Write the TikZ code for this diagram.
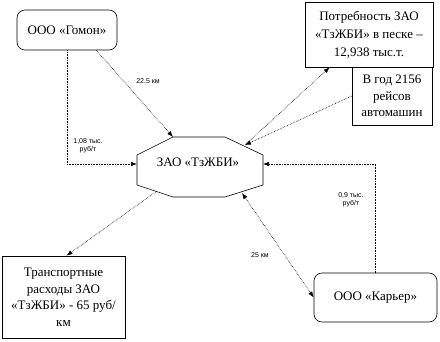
\documentclass[tikz,border=0pt]{standalone}
\usepackage{fontspec}
\setmainfont{Liberation Serif}
\newfontfamily\labfont{Liberation Sans}
\usetikzlibrary{arrows.meta}
\tikzset{
  box/.style={draw, line width=0.6pt, fill=white, align=center, inner sep=0pt,
    font=\fontsize{13}{16.5}\selectfont},
  rbox/.style={box, rounded corners=8pt},
  conn/.style={densely dotted, line width=0.6pt, -{Latex[length=6pt,width=4.5pt]}},
  lab/.style={font=\labfont\fontsize{7}{8.5}\selectfont, align=center, inner sep=0pt},
  octa/.style={line width=0.6pt, fill=white}
}
\begin{document}
\begin{tikzpicture}[x=1pt,y=-1pt]
\useasboundingbox (0,0) rectangle (440,341);
% octagon
\coordinate (o1) at (173,137);
\coordinate (o2) at (225,137);
\coordinate (o3) at (263,155);
\coordinate (o4) at (263,185);
\coordinate (o5) at (225,197);
\coordinate (o6) at (173,197);
\coordinate (o7) at (137,185);
\coordinate (o8) at (137,155);
\draw[octa] (o1) -- (o2) -- (o3) -- (o4) -- (o5) -- (o6) -- (o7) -- (o8) -- cycle;
\node[font=\fontsize{13}{16}\selectfont, inner sep=0pt] (c) at (198,162) {ЗАО «ТзЖБИ»};
\coordinate (oL) at (137,164);
\coordinate (oR) at (263,164);
\coordinate (oUR) at (245,145);
\coordinate (oLL) at (157,191);
\coordinate (oLR) at (242,193);

% boxes
\node[rbox, minimum width=100pt, minimum height=40pt] (g) at (67,30) {ООО «Гомон»};
\node[box, minimum width=128pt, minimum height=65pt, font=\fontsize{13}{18}\selectfont] (p) at (369,34.5) {Потребность ЗАО\\«ТзЖБИ» в песке –\\12,938 тыс.т.};
\node[box, minimum width=80pt, minimum height=58pt] (v) at (392,96) {В год 2156\\рейсов\\автомашин};
\node[box, minimum width=123pt, minimum height=82pt] (t) at (63.5,297) {Транспортные\\расходы ЗАО\\«ТзЖБИ» - 65 руб/\\км};
\node[rbox, minimum width=123pt, minimum height=49pt] (k) at (375.5,297.5) {ООО «Карьер»};

% connectors
\draw[conn] (g.south) |- (oL);
\draw[conn] ([xshift=-21pt]g.south east) -- (o1);
\draw[conn] (oUR) -- ([xshift=25pt]p.south west);
\draw[conn] (v.west) -- (oUR);
\draw[conn] (k.north) |- (oR);
\draw[conn] (oLL) -- ([xshift=3pt]t.north);
\draw[conn, {Latex[length=6pt,width=4.5pt]}-{Latex[length=6pt,width=4.5pt]}] (oLR) -- (k.west);

% labels
\node[lab] (l1) at (148,81) {22.5 км};
\node[lab] (l2) at (88,146) {1,08 тыс.\\руб/т};
\node[lab] (l3) at (351,200) {0,9 тыс.\\руб/т};
\node[lab] (l4) at (260,255) {25 км};
\end{tikzpicture}
\end{document}
